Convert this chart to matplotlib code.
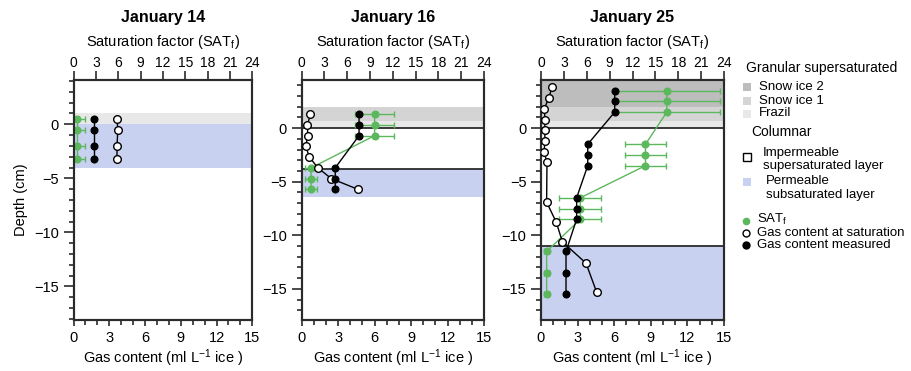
import matplotlib
matplotlib.use("Agg")
import matplotlib.pyplot as plt
from matplotlib.ticker import MultipleLocator

plt.rcParams["font.family"] = ["Liberation Sans", "DejaVu Sans"]
plt.rcParams["mathtext.fontset"] = "custom"
plt.rcParams["mathtext.rm"] = "Liberation Sans"
plt.rcParams["mathtext.it"] = "Liberation Sans:italic"
plt.rcParams["mathtext.bf"] = "Liberation Sans:bold"
plt.rcParams["axes.unicode_minus"] = True

GREEN = "#5cb85c"
EDGE = "#2b2b2b"
LAYER_COLORS = {
    "snow2": "#bdbdbd",
    "snow1": "#d4d4d4",
    "frazil": "#e8e8e8",
    "permeable": "#c9d1f1",
}

# ---- January 14 ----
jan14_layers = [("frazil", 1.0, 0.0), ("permeable", 0.0, -4.0)]
jan14_boundaries = []
jan14_depth = [0.5, -0.5, -2.0, -3.2]
jan14_gas_sat = [3.65, 3.72, 3.65, 3.65]
jan14_gas_meas = [1.7, 1.7, 1.7, 1.7]
jan14_satf = [0.5, 0.5, 0.5, 0.5]
jan14_satf_err = [1.0, 1.0, 1.0, 1.0]

# ---- January 16 ----
jan16_layers = [("snow1", 2.0, 0.66), ("frazil", 0.66, 0.0),
                ("permeable", -3.8, -6.45)]
jan16_boundaries = [0.0, -3.8]
jan16_sat_depth = [1.3, 0.3, -0.7, -1.7, -2.7, -3.7, -4.7, -5.7]
jan16_gas_sat = [0.72, 0.47, 0.5, 0.33, 0.64, 1.33, 2.43, 4.61]
jan16_depth = [1.3, 0.3, -0.7, -3.7, -4.7, -5.7]
jan16_gas_meas = [4.72, 4.72, 4.72, 2.76, 2.76, 2.76]
jan16_satf = [9.6, 9.6, 9.6, 1.24, 1.24, 1.24]
jan16_satf_err = [2.6, 2.6, 2.6, 0.8, 0.8, 0.8]

# ---- January 25 ----
jan25_layers = [("snow2", 4.5, 2.0), ("snow1", 2.0, 0.7), ("frazil", 0.7, 0.0),
                ("permeable", -11.0, -18.0)]
jan25_boundaries = [0.0, -11.0]
jan25_sat_depth = [3.8, 2.8, 1.8, 0.8, -0.2, -1.2, -2.2, -3.2,
                   -6.9, -8.8, -10.6, -12.6, -15.3]
jan25_gas_sat = [0.9, 0.63, 0.27, 0.33, 0.3, 0.33, 0.25, 0.49,
                 0.46, 1.26, 1.75, 3.69, 4.56]
jan25_depth = [3.5, 2.5, 1.5, -1.5, -2.5, -3.5, -6.5, -7.5, -8.5,
               -11.5, -13.5, -15.5]
jan25_gas_meas = [6.04, 6.04, 6.04, 3.83, 3.83, 3.83, 2.92, 2.92, 2.92,
                  2.05, 2.05, 2.05]
jan25_satf = [16.5, 16.5, 16.5, 13.7, 13.7, 13.7, 5.15, 5.15, 5.15,
              0.74, 0.74, 0.74]
jan25_satf_err = [7.0, 7.0, 7.0, 2.7, 2.7, 2.7, 2.75, 2.75, 2.75,
                  0.3, 0.3, 0.3]

panels = [
    dict(title="January 14", rect=[0.0806, 0.1375, 0.196, 0.647], ylim=(-18.1, 4.1),
         layers=jan14_layers, lines=jan14_boundaries,
         sat_depth=jan14_depth, gas_sat=jan14_gas_sat,
         depth=jan14_depth, gas_meas=jan14_gas_meas,
         satf=jan14_satf, satf_err=jan14_satf_err),
    dict(title="January 16", rect=[0.3308, 0.1375, 0.1999, 0.647], ylim=(-17.9, 4.5),
         layers=jan16_layers, lines=jan16_boundaries,
         sat_depth=jan16_sat_depth, gas_sat=jan16_gas_sat,
         depth=jan16_depth, gas_meas=jan16_gas_meas,
         satf=jan16_satf, satf_err=jan16_satf_err),
    dict(title="January 25", rect=[0.5932, 0.1375, 0.2007, 0.647], ylim=(-17.9, 4.5),
         layers=jan25_layers, lines=jan25_boundaries,
         sat_depth=jan25_sat_depth, gas_sat=jan25_gas_sat,
         depth=jan25_depth, gas_meas=jan25_gas_meas,
         satf=jan25_satf, satf_err=jan25_satf_err),
]

fig = plt.figure(figsize=(9.12, 3.71), dpi=100)

for i, p in enumerate(panels):
    ax = fig.add_axes(p["rect"])        # gas content, bottom axis
    ax_sat = ax.twiny()                 # saturation factor, top axis
    ax.set_zorder(2)
    ax_sat.set_zorder(1)
    ax.patch.set_visible(False)
    ax_sat.patch.set_visible(True)
    ax_sat.patch.set_facecolor("white")

    # ice layers
    for kind, top, bottom in p["layers"]:
        ax_sat.axhspan(bottom, top, color=LAYER_COLORS[kind], lw=0, zorder=0.5)
    for y in p["lines"]:
        ax_sat.axhline(y, color=EDGE, lw=1.3, zorder=0.8)

    ax_sat.errorbar(p["satf"], p["depth"], xerr=p["satf_err"], fmt="o-",
                    color=GREEN, ms=4.8, lw=1, elinewidth=1,
                    capsize=2.5, capthick=1, zorder=2)

    ax.plot(p["gas_sat"], p["sat_depth"], "o-", color="black", lw=1,
            ms=5.5, mfc="white", mec="black", mew=1, zorder=3)
    ax.plot(p["gas_meas"], p["depth"], "o-", color="black", lw=1,
            ms=4.8, zorder=4)

    ax.set_xlim(0, 15)
    ax_sat.set_xlim(0, 24)
    ax.set_ylim(*p["ylim"])

    ax.xaxis.set_major_locator(MultipleLocator(3))
    ax.xaxis.set_minor_locator(MultipleLocator(1))
    ax.yaxis.set_major_locator(MultipleLocator(5))
    ax.yaxis.set_minor_locator(MultipleLocator(1))
    ax_sat.xaxis.set_major_locator(MultipleLocator(3))

    ax.tick_params(axis="x", which="major", direction="out", length=4.5,
                   width=1.2, color=EDGE, labelsize=10.5, pad=3.5)
    ax.tick_params(axis="x", which="minor", direction="out", length=3.5,
                   width=1.2, color=EDGE)
    ax.tick_params(axis="y", which="major", direction="out", length=7,
                   width=1.2, color=EDGE, labelsize=10.5, pad=3.5)
    ax.tick_params(axis="y", which="minor", direction="out", length=3.5,
                   width=1.2, color=EDGE)
    ax_sat.tick_params(axis="x", which="major", direction="out", length=6.5,
                       width=1.2, color=EDGE, labelsize=10, pad=1)

    for a in (ax, ax_sat):
        for s in a.spines.values():
            s.set_linewidth(1.5)
            s.set_color(EDGE)

    ax.set_xlabel("Gas content (ml L$^{-1}$ ice )", fontsize=10.5, labelpad=2)
    ax_sat.set_xlabel("Saturation factor (SAT$_\\mathrm{f}$)", fontsize=10.5,
                      labelpad=7)
    if i == 0:
        ax.set_ylabel("Depth (cm)", fontsize=10.5, labelpad=4)
    ax.set_title(p["title"], fontsize=11.5, fontweight="bold", y=1.26,
                 va="center", pad=0)

# legend, laid out in pixel coordinates on an overlay
leg = fig.add_axes([0, 0, 1, 1], zorder=10)
leg.set_xlim(0, 912)
leg.set_ylim(371, 0)
leg.axis("off")
fs = 9.5
leg.text(746, 68, "Granular supersaturated", fontsize=10, va="center")
for y, kind, label in [(86.5, "snow2", "Snow ice 2"),
                       (100.5, "snow1", "Snow ice 1"),
                       (113.5, "frazil", "Frazil")]:
    leg.plot(747, y, "s", ms=6, color=LAYER_COLORS[kind], mew=0)
    leg.text(759, y, label, fontsize=fs, va="center")
leg.text(751, 132.5, "Columnar", fontsize=10, va="center")
leg.plot(747, 157, "s", ms=6, mfc="white", mec="black", mew=1)
leg.text(763, 153, "Impermeable", fontsize=fs, va="center")
leg.text(763, 166.5, "supersaturated layer", fontsize=fs, va="center")
leg.plot(747, 182, "s", ms=6, color=LAYER_COLORS["permeable"], mew=0)
leg.text(766, 181.5, "Permeable", fontsize=fs, va="center")
leg.text(766, 195, "subsaturated layer", fontsize=fs, va="center")
leg.plot(746, 220.5, "o", ms=5.5, color=GREEN, mew=0)
leg.text(757, 219.5, "SAT$_\\mathrm{f}$", fontsize=fs, va="center")
leg.plot(746, 233, "o", ms=5, mfc="white", mec="black", mew=1)
leg.text(757, 233, "Gas content at saturation", fontsize=fs, va="center")
leg.plot(746, 245, "o", ms=5, color="black")
leg.text(757, 245, "Gas content measured", fontsize=fs, va="center")

fig.savefig("out.png", dpi=100)
